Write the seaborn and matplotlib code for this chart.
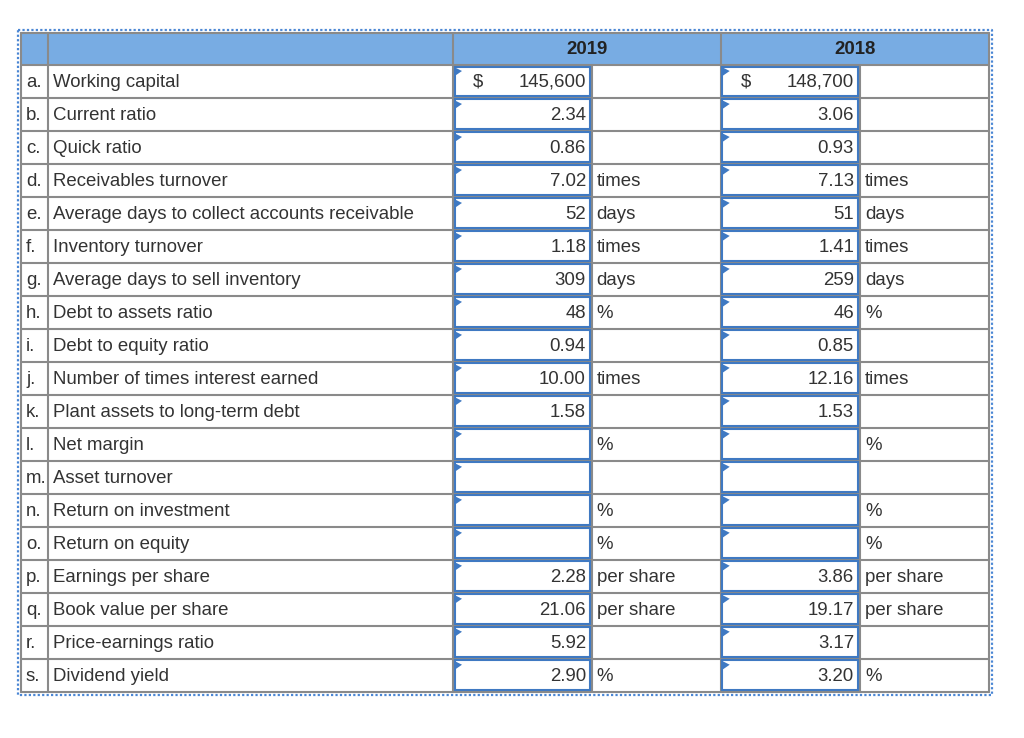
import matplotlib
matplotlib.use("Agg")
import matplotlib.pyplot as plt
from matplotlib.patches import Rectangle, Polygon
import seaborn as sns

# ---------------- data ----------------
letters = ["a.", "b.", "c.", "d.", "e.", "f.", "g.", "h.", "i.", "j.",
           "k.", "l.", "m.", "n.", "o.", "p.", "q.", "r.", "s."]
labels = ["Working capital", "Current ratio", "Quick ratio", "Receivables turnover",
          "Average days to collect accounts receivable", "Inventory turnover",
          "Average days to sell inventory", "Debt to assets ratio", "Debt to equity ratio",
          "Number of times interest earned", "Plant assets to long-term debt",
          "Net margin", "Asset turnover", "Return on investment", "Return on equity",
          "Earnings per share", "Book value per share", "Price-earnings ratio",
          "Dividend yield"]
years = ["2019", "2018"]
values_2019 = ["145,600", "2.34", "0.86", "7.02", "52", "1.18", "309", "48", "0.94",
               "10.00", "1.58", "", "", "", "", "2.28", "21.06", "5.92", "2.90"]
values_2018 = ["148,700", "3.06", "0.93", "7.13", "51", "1.41", "259", "46", "0.85",
               "12.16", "1.53", "", "", "", "", "3.86", "19.17", "3.17", "3.20"]
units = ["", "", "", "times", "days", "times", "days", "%", "", "times",
         "", "%", "", "%", "%", "per share", "per share", "", "%"]
currency_row = ["$", "", "", "", "", "", "", "", "", "", "", "", "", "", "", "", "", "", ""]

# ---------------- style ----------------
sns.set_theme(style="white")
plt.rcParams["font.family"] = ["Liberation Sans", "DejaVu Sans"]

W, H = 1024, 738
fig = plt.figure(figsize=(W / 100, H / 100), dpi=100)
ax = fig.add_axes([0, 0, 1, 1])
ax.set_xlim(0, W)
ax.set_ylim(H, 0)
ax.axis("off")

GRID = "#8a8a8a"
HEAD = "#78ace3"
BLUE = "#3f79c2"
DOT = "#4a86d4"
TXT = "#333333"
FS = 13.4

# layout
col_x = [20.7, 48.3, 453.0, 591.5, 720.7, 859.5, 988.7]
top, head_bot = 32.7, 65.0
row_h = (691.7 - head_bot) / len(labels)
bottom = head_bot + row_h * len(labels)

# header band
ax.add_patch(Rectangle((col_x[0], top), col_x[-1] - col_x[0], head_bot - top,
                       facecolor=HEAD, edgecolor="none", zorder=1))
for yr, (c0, c1) in zip(years, [(col_x[2], col_x[4]), (col_x[4], col_x[6])]):
    ax.text((c0 + c1) / 2, (top + head_bot) / 2 + 1, yr, ha="center", va="center",
            fontsize=FS, fontweight="bold", color="#222222", zorder=5)

lw = 1.5
# horizontal grid lines
ax.plot([col_x[0], col_x[-1]], [top, top], color=GRID, lw=lw, zorder=2)
for i in range(len(labels) + 1):
    y = head_bot + i * row_h
    ax.plot([col_x[0], col_x[-1]], [y, y], color=GRID, lw=lw, zorder=2)
# vertical grid lines
for j, x in enumerate(col_x):
    y0 = top if j in (0, 1, 2, 4, 6) else head_bot
    ax.plot([x, x], [y0, bottom], color=GRID, lw=lw, zorder=2)

# rows
for i, (let, lab) in enumerate(zip(letters, labels)):
    yt = head_bot + i * row_h
    yc = yt + row_h / 2 + 1.0
    ax.text(26, yc, let, ha="left", va="center", fontsize=FS, color=TXT, zorder=5)
    ax.text(53.3, yc, lab, ha="left", va="center", fontsize=FS, color=TXT, zorder=5)
    for vals, c0, c1, cur_x, unit_x in [(values_2019, col_x[2], col_x[3], 473, 596.7),
                                        (values_2018, col_x[4], col_x[5], 740.7, 865)]:
        ax.add_patch(Rectangle((c0 + 1.5, yt + 1.5), (c1 - c0) - 3, row_h - 3,
                               facecolor="white", edgecolor=BLUE, lw=1.5, zorder=3))
        ax.add_patch(Polygon([(c0 + 1.0, yt + 2.0), (c0 + 1.0, yt + 11.5),
                              (c0 + 9, yt + 6.0)], closed=True,
                             facecolor=BLUE, edgecolor="none", zorder=4))
        if vals[i]:
            ax.text(c1 - 5.5, yc, vals[i], ha="right", va="center", fontsize=FS,
                    color=TXT, zorder=5)
        if currency_row[i]:
            ax.text(cur_x, yc, currency_row[i], ha="left", va="center", fontsize=FS,
                    color=TXT, zorder=5)
        if units[i]:
            ax.text(unit_x, yc, units[i], ha="left", va="center", fontsize=FS,
                    color=TXT, zorder=5)

# dotted outer border
dl, dt, dr, db = 18.0, 30.0, 991.5, 694.5
ax.plot([dl, dr, dr, dl, dl], [dt, dt, db, db, dt], color=DOT, lw=1.6,
        linestyle=(0, (1.0, 1.0)), zorder=6)

fig.savefig("out.png", dpi=100, facecolor="white")
